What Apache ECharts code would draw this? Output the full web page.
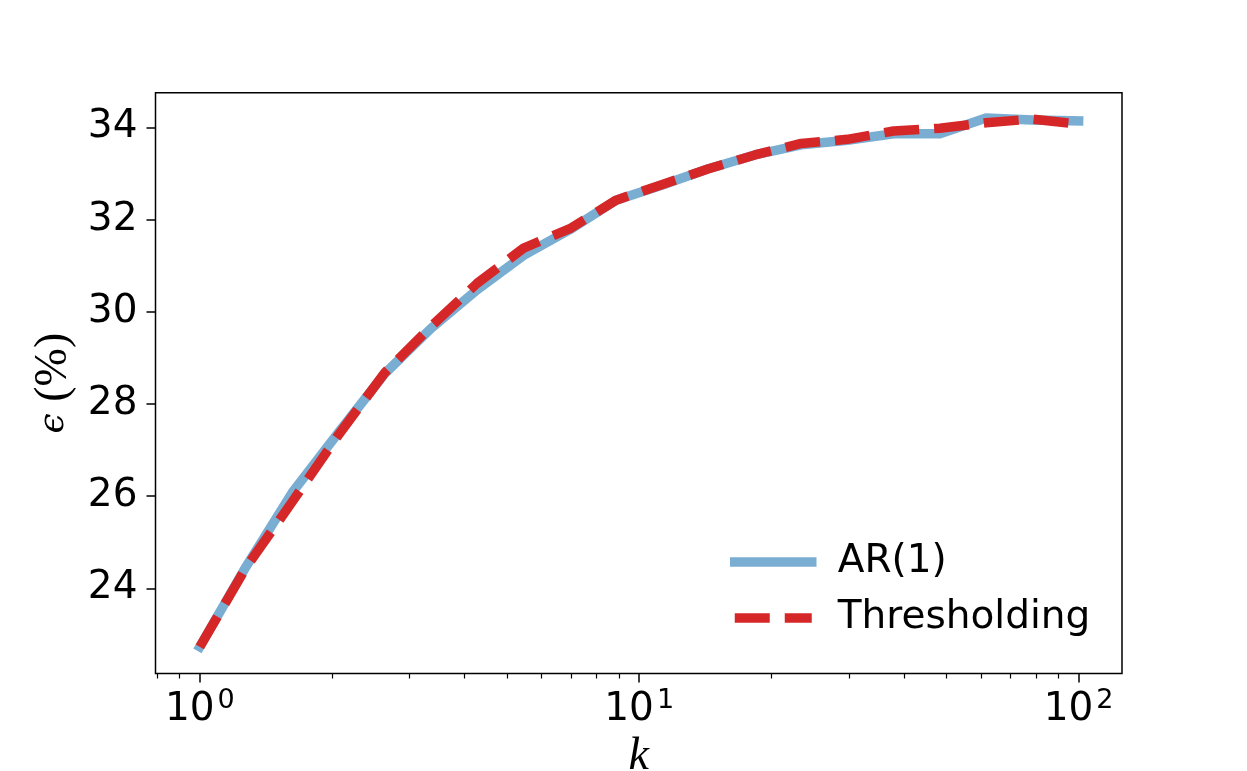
<!DOCTYPE html>
<html>
<head>
<meta charset="utf-8">
<script src="https://cdn.jsdelivr.net/npm/echarts@6/dist/echarts.min.js"></script>
<style>
html,body{margin:0;padding:0;background:#fff;}
#chart{width:1247px;height:771px;}
</style>
</head>
<body>
<div id="chart"></div>
<script>
// k values (log x axis) and the two curves
var kValues = [1, 1.274, 1.624, 2.069, 2.637, 3.360, 4.281, 5.456, 6.952, 8.859,
               11.29, 14.38, 18.33, 23.36, 29.76, 37.93, 48.33, 61.58, 78.48, 100];
var ar1 = [22.73, 24.47, 26.08, 27.38, 28.66, 29.64, 30.48, 31.22, 31.78, 32.42,
           32.75, 33.10, 33.40, 33.62, 33.72, 33.86, 33.86, 34.20, 34.16, 34.14];
var thresholding = [22.73, 24.45, 25.88, 27.33, 28.68, 29.68, 30.62, 31.38, 31.80, 32.42,
                    32.76, 33.10, 33.40, 33.65, 33.74, 33.92, 33.98, 34.10, 34.18, 34.07];
var seriesNames = ['AR(1)', 'Thresholding'];

// tick labels
var xMajorTicks = [1, 10, 100];
var xMinorTicks = [0.8, 0.9, 2, 3, 4, 5, 6, 7, 8, 9, 20, 30, 40, 50, 60, 70, 80, 90];
var yTicks = [24, 26, 28, 30, 32, 34];

function toLog(v){ return Math.log10(v); }
function pairs(ys){
    var res = [];
    for (var i = 0; i < kValues.length; i++) {
        res.push([toLog(kValues[i]), ys[i]]);
    }
    return res;
}

var xMin = -0.1008, xMax = 2.0987;   // 0.79 .. 125 in log10
var yMin = 22.152, yMax = 34.751;

var chart = echarts.init(document.getElementById('chart'), null, {renderer: 'canvas'});
var option = {
    backgroundColor: '#fff',
    animation: false,
    grid: {
        left: 155.5, right: 125, top: 92.7, bottom: 97.5,
        outerBoundsMode: 'none', containLabel: false,
        show: true, borderColor: '#000', borderWidth: 1.5
    },
    legend: {
        orient: 'vertical',
        left: 730, top: 540, padding: 0,
        itemWidth: 77, itemHeight: 10, itemGap: 12,
        itemStyle: {opacity: 0},
        lineStyle: {width: 'inherit', type: 'inherit', cap: 'inherit'},
        textStyle: {
            fontFamily: 'DejaVu Sans', fontSize: 39, color: '#000',
            lineHeight: 44, padding: [0, 0, 0, 21]
        },
        data: seriesNames
    },
    xAxis: [
        {
            type: 'value', min: xMin, max: xMax,
            name: 'k', nameLocation: 'middle', nameGap: 60,
            nameTextStyle: {fontFamily: 'Liberation Serif', fontStyle: 'italic', fontSize: 46, color: '#000'},
            axisLine: {show: false, onZero: false},
            splitLine: {show: false},
            axisTick: {show: true, length: 9, lineStyle: {color: '#000', width: 1.5},
                       customValues: xMajorTicks.map(toLog)},
            axisLabel: {
                customValues: xMajorTicks.map(toLog),
                margin: 14,
                formatter: function(v){ return '{b|10}{s|' + Math.round(v) + '}'; },
                rich: {
                    b: {fontFamily: 'DejaVu Sans', fontSize: 39, color: '#000', lineHeight: 44},
                    s: {fontFamily: 'DejaVu Sans', fontSize: 27, color: '#000', lineHeight: 27,
                        verticalAlign: 'top', padding: [0, 0, 0, 3]}
                }
            }
        },
        {
            // minor log ticks
            type: 'value', min: xMin, max: xMax, position: 'bottom',
            axisLine: {show: false, onZero: false}, splitLine: {show: false},
            axisLabel: {show: false},
            axisTick: {show: true, length: 5, lineStyle: {color: '#000', width: 1.2},
                       customValues: xMinorTicks.map(toLog)}
        }
    ],
    yAxis: {
        type: 'value', min: yMin, max: yMax,
        name: '{e|ϵ}{p| (%)}', nameLocation: 'middle', nameGap: 78, nameRotate: 90,
        nameTextStyle: {
            rich: {
                e: {fontFamily: 'DejaVu Serif', fontStyle: 'italic', fontSize: 36, color: '#000'},
                p: {fontFamily: 'Liberation Serif', fontSize: 46, color: '#000'}
            }
        },
        axisLine: {show: false, onZero: false},
        splitLine: {show: false},
        axisTick: {show: true, length: 9, lineStyle: {color: '#000', width: 1.5}, customValues: yTicks},
        axisLabel: {customValues: yTicks, margin: 18,
                    fontFamily: 'DejaVu Sans', fontSize: 39, color: '#000'}
    },
    series: [
        {
            name: seriesNames[0], type: 'line', xAxisIndex: 0,
            data: pairs(ar1),
            symbol: 'none', showSymbol: false,
            color: '#79add2',
            lineStyle: {color: '#79add2', width: 9.5, cap: 'square', join: 'round'},
            z: 2
        },
        {
            name: seriesNames[1], type: 'line', xAxisIndex: 0,
            data: pairs(thresholding),
            symbol: 'none', showSymbol: false,
            color: '#d62728',
            lineStyle: {color: '#d62728', width: 9.5, type: [35, 15], cap: 'butt', join: 'round'},
            z: 3
        }
    ]
};
chart.setOption(option);
</script>
</body>
</html>
